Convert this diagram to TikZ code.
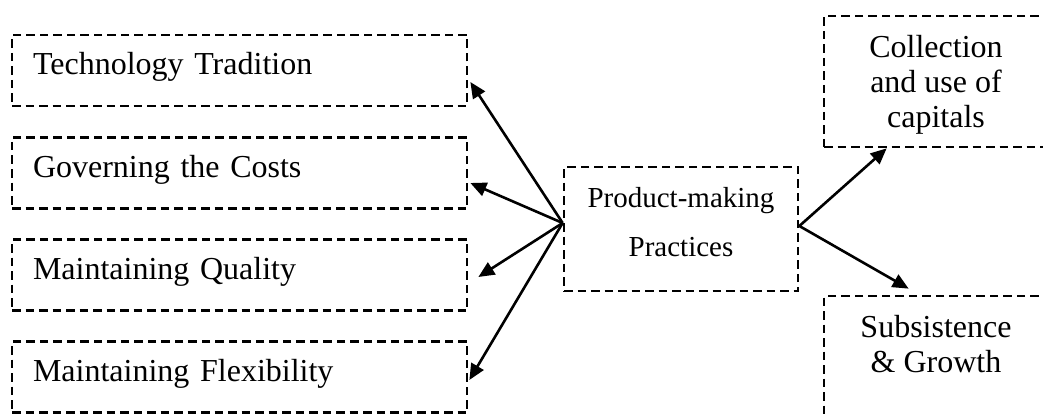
\documentclass[tikz,border=0pt]{standalone}
\usepackage{fontspec}
\setmainfont{Liberation Serif}
\usetikzlibrary{arrows.meta}
\begin{document}
\begin{tikzpicture}[x=1pt,y=-1pt,
  dbox/.style={draw, line width=2.7pt, dash pattern=on 8.5pt off 5pt, inner sep=0pt},
  lbox/.style={dbox, minimum width=455pt, minimum height=71pt, text width=413pt,
    inner xsep=21pt, align=left, text height=22pt, text depth=13pt,
    font=\fontsize{32}{35}\selectfont},
  rbox/.style={dbox, minimum width=224pt, minimum height=131pt},
  rtext/.style={inner sep=0pt, align=center, anchor=north, font=\fontsize{32}{35}\selectfont},
  ctext/.style={inner sep=0pt, align=center, anchor=north, font=\fontsize{29}{49}\selectfont},
  arr/.style={-{Triangle[length=16pt,width=14pt]}, line width=2.6pt}]
\clip (0,0) rectangle (1043,417);

% activities on the left
\node[lbox] (tt) at (239.5,70.5) {Technology Tradition};
\node[lbox] (gc) at (239.5,173) {Governing the Costs};
\node[lbox] (mq) at (239.5,275) {Maintaining Quality};
\node[lbox] (mf) at (239.5,377) {Maintaining Flexibility};

% central practice
\node[dbox, minimum width=234pt, minimum height=124pt] (pp) at (681,229) {};
\node[ctext] (ppt) at (681,187.5) {Product-making\\Practices};

% outcomes on the right
\node[rbox] (cu) at (936,81.5) {};
\node[rtext] (cut) at (936,35) {Collection\\and use of\\capitals};
\node[rbox] (sg) at (936,361.5) {};
\node[rtext] (sgt) at (936,315) {Subsistence\\\& Growth};

% connectors
\draw[arr] ([yshift=6pt]pp.west) -- ([shift={(2pt,-11.5pt)}]tt.east);
\draw[arr] ([yshift=6pt]pp.west) -- ([shift={(2pt,-10pt)}]gc.east);
\draw[arr] ([yshift=6pt]pp.west) -- ([shift={(10pt,-2pt)}]mq.east);
\draw[arr] ([yshift=6pt]pp.west) -- ([shift={(1pt,-3pt)}]mf.east);
\draw[arr] ([yshift=3pt]pp.east) -- ([xshift=64pt]cu.south west);
\draw[arr] ([yshift=3pt]pp.east) -- ([shift={(86pt,6pt)}]sg.north west);
\end{tikzpicture}
\end{document}
